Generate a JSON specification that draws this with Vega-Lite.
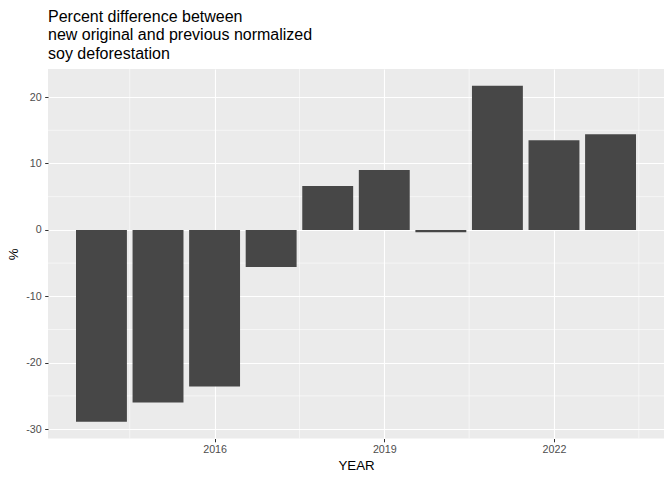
{
  "$schema": "https://vega.github.io/schema/vega-lite/v6.json",
  "autosize": {"type": "none"},
  "padding": {"left": 48, "top": 69, "right": 8, "bottom": 42},
  "width": 616,
  "height": 369.5,
  "background": "white",
  "title": {
    "text": ["Percent difference between", "new original and previous normalized", "soy deforestation"],
    "anchor": "start",
    "frame": "group",
    "font": "Liberation Sans",
    "fontSize": 16,
    "fontWeight": "normal",
    "lineHeight": 18.5,
    "color": "black",
    "offset": 7
  },
  "config": {
    "view": {"fill": "#EBEBEB", "stroke": null},
    "axis": {
      "labelFont": "Liberation Sans",
      "titleFont": "Liberation Sans",
      "labelFontSize": 10.7,
      "titleFontSize": 13.3,
      "titleFontWeight": "normal",
      "labelColor": "#4D4D4D",
      "titleColor": "black",
      "tickColor": "#333333",
      "tickSize": 3.3,
      "tickWidth": 1,
      "domain": false,
      "grid": true,
      "gridColor": "white",
      "gridWidth": 1.1,
      "labelPadding": 2.5
    }
  },
  "layer": [
    {
      "data": {"values": [{"g": 2014.5}, {"g": 2017.5}, {"g": 2020.5}, {"g": 2023.5}]},
      "mark": {"type": "rule", "color": "white", "strokeWidth": 0.55},
      "encoding": {
        "x": {"field": "g", "type": "quantitative", "scale": {"domain": [2013.055, 2023.945], "nice": false, "zero": false}}
      }
    },
    {
      "data": {"values": [{"g": -25}, {"g": -15}, {"g": -5}, {"g": 5}, {"g": 15}]},
      "mark": {"type": "rule", "color": "white", "strokeWidth": 0.55},
      "encoding": {
        "y": {"field": "g", "type": "quantitative", "scale": {"domain": [-31.42, 24.23], "nice": false, "zero": false}}
      }
    },
    {
      "data": {"values": [
        {"YEAR": 2014, "pct": -28.9},
        {"YEAR": 2015, "pct": -26.0},
        {"YEAR": 2016, "pct": -23.6},
        {"YEAR": 2017, "pct": -5.6},
        {"YEAR": 2018, "pct": 6.6},
        {"YEAR": 2019, "pct": 9.0},
        {"YEAR": 2020, "pct": -0.35},
        {"YEAR": 2021, "pct": 21.7},
        {"YEAR": 2022, "pct": 13.5},
        {"YEAR": 2023, "pct": 14.4}
      ]},
      "transform": [
        {"calculate": "datum.YEAR - 0.45", "as": "x1"},
        {"calculate": "datum.YEAR + 0.45", "as": "x2"}
      ],
      "mark": {"type": "bar", "color": "#474747"},
      "encoding": {
        "x": {"field": "x1", "type": "quantitative", "title": "YEAR",
              "scale": {"domain": [2013.055, 2023.945], "nice": false, "zero": false},
              "axis": {"values": [2016, 2019, 2022], "format": "d", "titlePadding": 4}},
        "x2": {"field": "x2"},
        "y": {"field": "pct", "type": "quantitative", "title": "%",
              "scale": {"domain": [-31.42, 24.23], "nice": false, "zero": false},
              "axis": {"values": [-30, -20, -10, 0, 10, 20], "labelExpr": "'' + datum.value", "labelPadding": 3.5, "titlePadding": 5}},
        "y2": {"datum": 0}
      }
    }
  ]
}
